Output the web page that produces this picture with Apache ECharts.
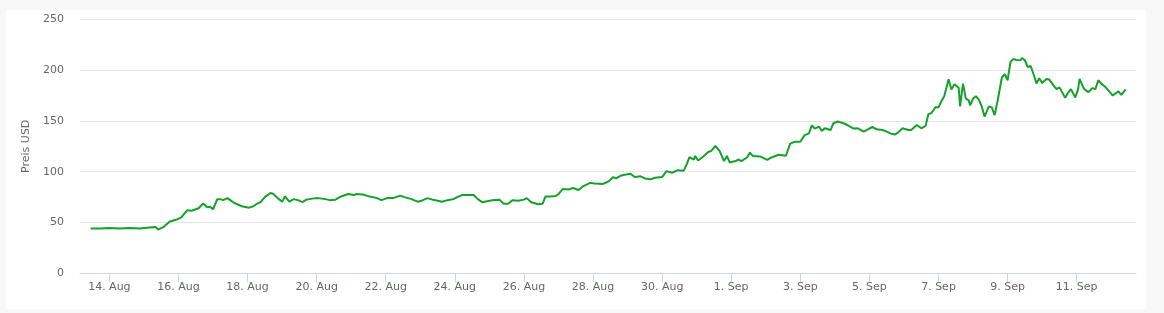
<!DOCTYPE html>
<html>
<head>
<meta charset="utf-8">
<script src="https://cdn.jsdelivr.net/npm/echarts@6/dist/echarts.min.js"></script>
<style>
  html, body { margin: 0; padding: 0; background: #f8f8f8; }
  #panel { position: absolute; left: 6px; top: 10px; width: 1140px; height: 299px; background: #ffffff; }
  #chart { position: absolute; left: 0; top: 0; width: 1164px; height: 313px; }
</style>
</head>
<body>
<div id="panel"></div>
<div id="chart"></div>
<script>
// Hours since 14 Aug 00:00
const hours = [
  -13, -6, 0, 7, 14, 21, 28, 32, 34, 38, 42, 47, 50, 54, 57, 62, 65, 68, 70, 72, 75, 77, 79,
  82, 84, 87, 92, 97, 98, 100, 102, 105, 108, 112, 114, 117, 120, 122, 125, 128, 131, 134, 137,
  141, 145, 150, 153, 157, 161, 166, 170, 172, 176, 181, 186, 189, 193, 197, 202, 205, 210, 214,
  217, 221, 225, 231, 235, 239, 241, 245, 248, 253, 256, 259, 266, 271, 274, 277, 280, 284, 288,
  290, 293, 298, 301, 303, 306, 310, 312, 315, 319, 322, 326, 329, 334, 337, 343, 347, 350, 352,
  355, 358, 362, 365, 369, 372, 376, 379, 384, 387, 391, 395, 399, 401, 403, 406, 407, 409, 413,
  416, 418, 421, 422, 424, 427, 429, 431, 435, 437, 439, 443, 445, 447, 452, 457, 460, 465, 470,
  473, 476, 480, 483, 486, 488, 490, 493, 495, 497, 501, 503, 506, 510, 513, 517, 520, 524, 527,
  530, 533, 537, 540, 543, 546, 548, 551, 555, 557, 561, 564, 567, 569, 571, 574, 576, 578, 580,
  583, 584, 585, 587, 590, 591, 593, 595, 597, 598, 600, 602, 604, 606, 608, 611, 613, 615, 617,
  620, 622, 624, 626, 628, 630, 633, 634, 636, 638, 640, 643, 644, 646, 648, 651, 653, 656, 658,
  660, 664, 666, 668, 671, 673, 674, 677, 680, 683, 685, 687, 689, 692, 695, 697, 701, 703, 706
];
const prices = [
  44, 44, 44.5, 44, 44.5, 44, 45, 45.5, 43, 46, 51, 53, 55, 62, 61.6, 64, 68.6, 65, 65.6, 63, 73, 73, 72,
  74, 72, 69, 66, 64.6, 63, 66, 68, 70, 75, 79, 78, 74, 70.5, 75.6, 70.5, 73, 72, 70, 72.5,
  73.5, 74, 73, 72, 72.5, 75.6, 78, 77, 78, 77.5, 75.5, 74, 72, 74, 74, 76.5, 75, 73, 70.5,
  71.5, 74, 72.3, 70.5, 72, 73, 74.6, 77, 77, 77, 73, 70, 72, 72.5, 68.5, 68.5, 72, 71.5, 72.5,
  74, 70, 68, 68.5, 75.6, 75.6, 76, 78, 83, 82.5, 84, 82, 85.6, 89, 88.5, 88, 90.6, 94.7, 93.5,
  96, 97, 98, 94.7, 95.5, 93.4, 92.5, 94, 94.7, 100.6, 99, 101.5, 101, 107, 114.4, 112, 115.5, 111, 115.5,
  119.4, 120.3, 125.3, 127, 120.3, 110.5, 115.5, 109, 110.5, 112, 110.5, 114, 118.8, 115.5, 115, 111.7, 114, 116.7, 115.7,
  127.7, 129.4, 129.4, 136, 137.7, 145.7, 142.4, 144.4, 140, 142.7, 141, 147.7, 149.4, 147.7, 145.7, 142.4, 142.7, 139.4, 141.7,
  144, 141.7, 141, 139.4, 137.4, 136.7, 138.7, 142.7, 141, 141, 146, 142.7, 145, 156.7, 157.7, 163.7, 163.3, 169.3, 174.3,
  191, 189.3, 181, 186, 182.7, 164.3, 186.7, 172, 170.3, 165.3, 172, 174.3, 171, 164.3, 154.3, 164.3, 163.3, 155.7, 169.3,
  192.7, 196, 190, 208, 211, 210, 209.7, 212, 209.7, 203, 204, 192, 186.7, 192, 187.3, 191.3, 190.7, 184.7, 181.3,
  183, 172.7, 177.7, 181.3, 173, 181.3, 191.3, 181.7, 178.3, 182.3, 181.3, 190, 186.7, 183.3, 178.3, 175, 179, 175.7, 181
];
const tickHours = [0, 48, 96, 144, 192, 240, 288, 336, 384, 432, 480, 528, 576, 624, 672];
const tickLabels = ['14. Aug', '16. Aug', '18. Aug', '20. Aug', '22. Aug', '24. Aug', '26. Aug', '28. Aug',
  '30. Aug', '1. Sep', '3. Sep', '5. Sep', '7. Sep', '9. Sep', '11. Sep'];
const yTicks = [0, 50, 100, 150, 200, 250];

const chart = echarts.init(document.getElementById('chart'));
const font = 'DejaVu Sans, Verdana, sans-serif';
chart.setOption({
  animation: false,
  textStyle: { fontFamily: font },
  grid: { left: 80, right: 28, top: 19.3, bottom: 39.7 },
  xAxis: {
    type: 'value',
    min: -20.4,
    max: 713.2,
    axisLine: { show: true, lineStyle: { color: '#ccd6eb', width: 1 } },
    axisTick: {
      show: true, length: 9, lineStyle: { color: '#ccd6eb', width: 1 },
      customValues: tickHours
    },
    axisLabel: {
      color: '#666666', fontSize: 11, fontFamily: font, margin: 8,
      customValues: tickHours,
      formatter: function (v) {
        const i = tickHours.indexOf(Math.round(v));
        return i >= 0 ? tickLabels[i] : '';
      }
    },
    splitLine: { show: false }
  },
  yAxis: {
    type: 'value',
    min: yTicks[0],
    max: yTicks[yTicks.length - 1],
    interval: 50,
    name: 'Preis USD',
    nameLocation: 'middle',
    nameGap: 46,
    nameRotate: 90,
    nameTextStyle: { color: '#666666', fontSize: 11, fontFamily: font },
    axisLine: { show: false },
    axisTick: { show: false },
    axisLabel: { color: '#666666', fontSize: 11, fontFamily: font, margin: 16 },
    splitLine: { lineStyle: { color: '#e6e6e6', width: 1 } }
  },
  series: [{
    type: 'line',
    data: hours.map(function (h, i) { return [h, prices[i]]; }),
    showSymbol: false,
    lineStyle: { color: '#16a02c', width: 2 },
    itemStyle: { color: '#16a02c' }
  }]
});
</script>
</body>
</html>
